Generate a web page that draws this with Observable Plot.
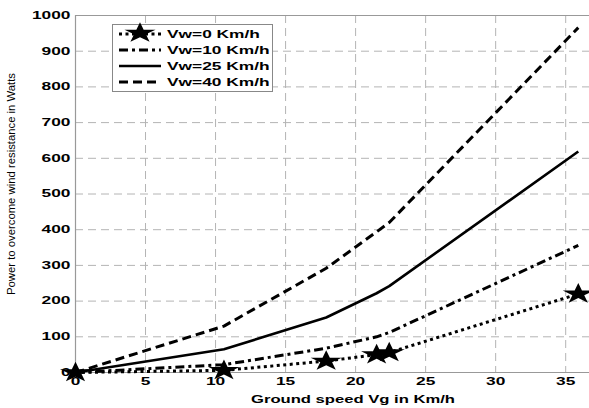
<!DOCTYPE html>
<html><head><meta charset="utf-8">
<script src="https://cdn.jsdelivr.net/npm/d3@7"></script>
<script src="https://cdn.jsdelivr.net/npm/@observablehq/plot@0.6"></script>
<style>body{margin:0;background:#fff}#chart svg{display:block}</style>
</head><body><div id="chart"></div>
<script>
// Data
const speeds = [0, 10.6, 17.9, 21.5, 22.4, 35.9];
const vw0  = [0, 6, 32, 50, 56, 220];
const vw10 = [0, 22, 68, 100, 112, 356];
const vw25 = [0, 65, 154, 222, 242, 619];
const vw40 = [0, 130, 292, 394, 420, 966];
const seriesNames = ["Vw=0 Km/h", "Vw=10 Km/h", "Vw=25 Km/h", "Vw=40 Km/h"];
const xTicks = [0, 5, 10, 15, 20, 25, 30, 35];
const yTicks = [0, 100, 200, 300, 400, 500, 600, 700, 800, 900, 1000];
const xLabel = "Ground speed Vg in Km/h";
const yLabel = "Power to overcome wind resistance in Watts";

const allSeries = [vw0, vw10, vw25, vw40];
const dashes = ["3,3.5", "9,4,3,4", null, "9,5"];
const widths = [3, 3, 2.6, 3];
const rows = allSeries.map((vals, i) => vals.map((v, j) => ({x: speeds[j], y: v, s: seriesNames[i]})));
const stars = rows[0];

// horizontally widened star (the reference is stretched horizontally)
const wideStar = {draw(context, size) {
  const c = {moveTo: (x, y) => context.moveTo(x * 1.5, y), lineTo: (x, y) => context.lineTo(x * 1.5, y), closePath: () => context.closePath()};
  d3.symbolStar.draw(c, size);
}};

const FONT = "Liberation Sans, Arial, sans-serif";
const gridStyle = {stroke: "#b4b4b4", strokeOpacity: 1, strokeDasharray: "8,5", strokeWidth: 1};
const plot = Plot.plot({
  width: 589, height: 408,
  marginLeft: 75, marginRight: 0, marginTop: 15, marginBottom: 36,
  x: {domain: [0, 36.7]},
  y: {domain: [0, 1000]},
  style: {fontFamily: FONT, background: "#fff"},
  marks: [
    Plot.gridX(xTicks, gridStyle),
    Plot.gridY(yTicks, gridStyle),
    Plot.ruleY([0, 1000], {stroke: "#999", strokeWidth: 1.2}),
    Plot.ruleX([0], {stroke: "#999", strokeWidth: 1.2}),
    ...rows.map((r, i) => Plot.line(r, {x: "x", y: "y", stroke: "#000", strokeWidth: widths[i], strokeDasharray: dashes[i], strokeLinecap: "butt"})),
    Plot.dot(stars, {x: "x", y: "y", symbol: wideStar, r: 6.5, fill: "#000", stroke: "none"}),
    Plot.axisX(xTicks, {tickSize: 0, tickPadding: 5, fontSize: 10.5, fontWeight: "bold", fill: "#000", label: null, tickFormat: d => String(d)}),
    Plot.axisY(yTicks, {tickSize: 0, tickPadding: 5, fontSize: 10.5, fontWeight: "bold", fill: "#000", label: null, tickFormat: d => String(d)})
  ]
});
document.getElementById("chart").append(plot);
const svg = d3.select(plot);

// stretch texts horizontally like the reference
function stretch(sel, k) {
  sel.each(function() {
    const L = this.getComputedTextLength();
    this.setAttribute("textLength", (L * k).toFixed(1));
    this.setAttribute("lengthAdjust", "spacingAndGlyphs");
  });
}
stretch(svg.selectAll("g[aria-label^='x-axis tick label'] text, g[aria-label^='y-axis tick label'] text"), 1.65);

// axis titles
svg.append("text").attr("x", 353).attr("y", 403).attr("text-anchor", "middle")
  .attr("font-size", 11).attr("font-weight", "bold").attr("font-family", FONT)
  .attr("textLength", 204).attr("lengthAdjust", "spacingAndGlyphs").text(xLabel);
svg.append("text").attr("transform", "translate(15,184) rotate(-90)").attr("text-anchor", "middle")
  .attr("font-size", 10).attr("font-family", FONT)
  .attr("textLength", 222).attr("lengthAdjust", "spacingAndGlyphs").text(yLabel);

// legend
const lg = svg.append("g");
lg.append("rect").attr("x", 112.5).attr("y", 24.5).attr("width", 160).attr("height", 67)
  .attr("fill", "#fff").attr("stroke", "#888").attr("stroke-width", 1);
seriesNames.forEach((name, i) => {
  const y = 34 + i * 16;
  lg.append("line").attr("x1", 119).attr("x2", 161).attr("y1", y).attr("y2", y)
    .attr("stroke", "#000").attr("stroke-width", widths[i]).attr("stroke-dasharray", dashes[i]);
  const t = lg.append("text").attr("x", 167).attr("y", y + 4).attr("text-anchor", "start")
    .attr("font-size", 10.5).attr("font-weight", "bold").attr("font-family", FONT).text(name);
  stretch(t, 1.65);
});
lg.append("path").attr("transform", "translate(140,33)")
  .attr("d", () => { const p = d3.path(); wideStar.draw(p, Math.PI * 6.5 * 6.5); return p.toString(); })
  .attr("fill", "#000");
</script>
</body></html>
